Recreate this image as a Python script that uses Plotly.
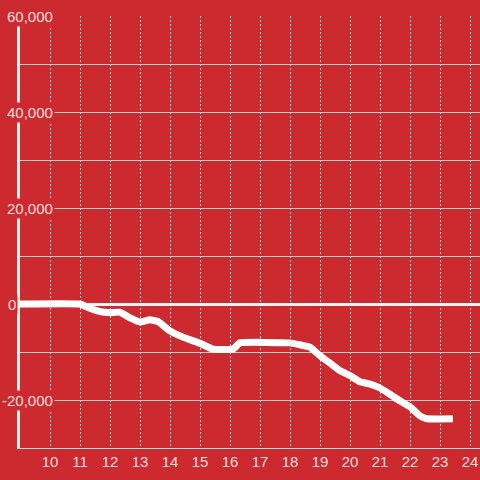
import plotly.graph_objects as go

# Data
hours = [9, 11, 11.33, 11.67, 12, 12.33, 12.67, 13, 13.33, 13.6, 14, 14.43, 15, 15.43,
         16.1, 16.33, 18, 18.33, 18.67, 19, 19.33, 19.67, 20, 20.33, 20.67, 21, 21.33,
         21.67, 22, 22.33, 22.57, 23.43]
values = [0, 0, -900, -1600, -1800, -1700, -2900, -3750, -3300, -3650, -5600, -6900,
          -8200, -9400, -9400, -8100, -8100, -8500, -9000, -10800, -12300, -13900,
          -14900, -16200, -16700, -17500, -18800, -20200, -21400, -23300, -23900, -23900]

x_ticks = list(range(10, 25))
y_ticks = [60000, 40000, 20000, 0, -20000]
y_tick_labels = ["60,000", "40,000", "20,000", "0", "-20,000"]

BG = "#cc2a2f"
TXT = "rgba(255,255,255,0.85)"
FONT = "Liberation Sans, Arial, sans-serif"

fig = go.Figure()
fig.add_trace(go.Scatter(x=hours, y=values, mode="lines",
                         line=dict(color="#ffffff", width=7, shape="spline", smoothing=0.3),
                         hoverinfo="skip", showlegend=False))

annotations = []
for v, lab in zip(y_ticks, y_tick_labels):
    if v == 0:
        annotations.append(dict(x=(11.5 - 20) / 460, xref="paper", xanchor="center",
                                y=v, yref="y", yanchor="middle", text=lab,
                                showarrow=False, bgcolor=BG, borderpad=1,
                                font=dict(family=FONT, size=15, color=TXT)))
    else:
        annotations.append(dict(x=(54.5 - 20) / 460, xref="paper", xanchor="right",
                                y=v, yref="y", yanchor="middle", text=lab,
                                showarrow=False, bgcolor=BG, borderpad=1,
                                font=dict(family=FONT, size=15, color=TXT)))

fig.update_layout(
    width=480, height=480,
    margin=dict(l=20, r=0, t=16, b=32),
    paper_bgcolor=BG, plot_bgcolor=BG,
    font=dict(family=FONT, size=15, color=TXT),
    annotations=annotations,
    xaxis=dict(range=[9, 24.3333], tickvals=x_ticks, ticktext=[str(t) for t in x_ticks],
               showgrid=True, gridcolor="#dddddd", gridwidth=1, griddash="2px,2px",
               showline=True, linecolor="#dddddd", linewidth=1,
               zeroline=False, ticks="", tickfont=dict(size=15, color=TXT)),
    yaxis=dict(range=[-30000, 60000], dtick=10000, tick0=0,
               showgrid=True, gridcolor="#cccccc", gridwidth=1,
               showticklabels=False, ticks="",
               zeroline=True, zerolinecolor="#f2f2f2", zerolinewidth=3,
               showline=True, linecolor="#eeeeee", linewidth=3),
)

fig.write_html("out.html", config={"displayModeBar": False},
               post_script="document.body.style.margin='0';document.body.style.overflow='hidden';")
